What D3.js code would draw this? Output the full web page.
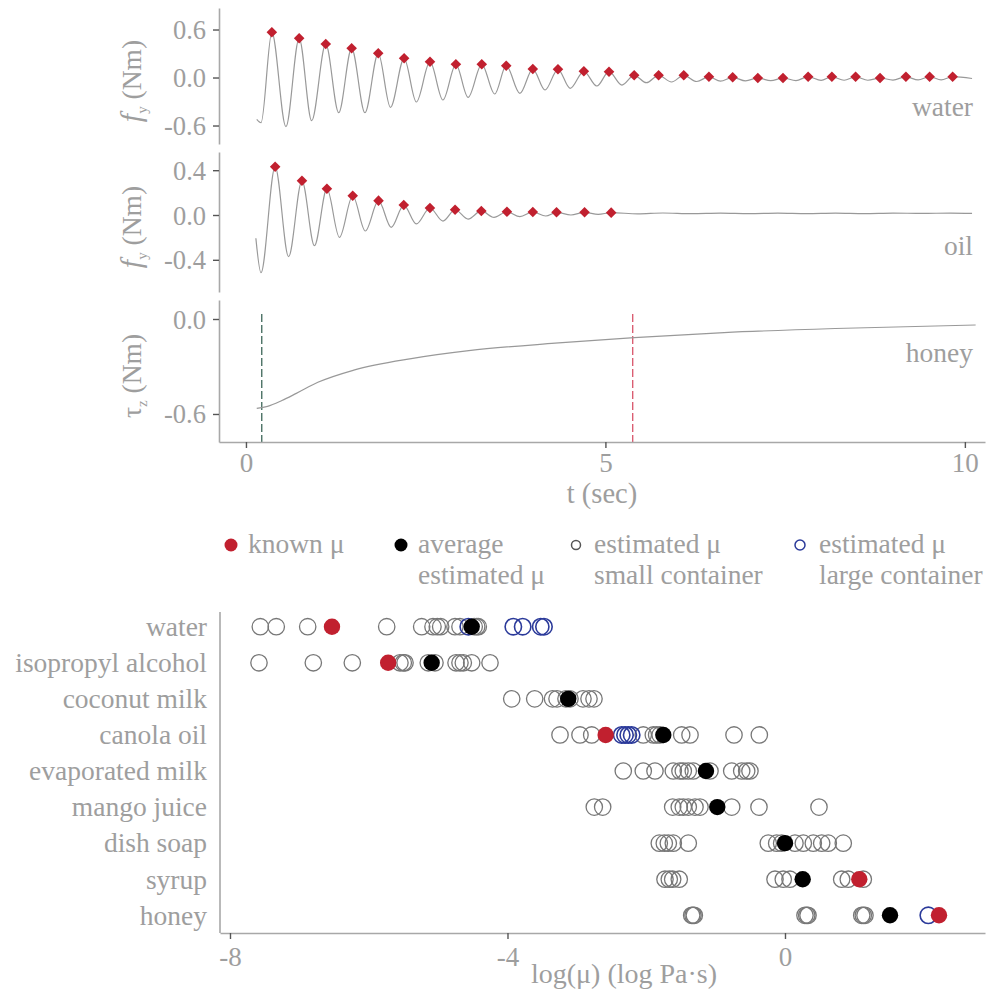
<!DOCTYPE html>
<html><head><meta charset="utf-8">
<script src="https://cdn.jsdelivr.net/npm/d3@7"></script>
<style>
body{margin:0;background:#fff;}
text{font-family:"Liberation Serif","Times New Roman",serif;fill:#9e9e9e;}
</style></head>
<body><svg id="c" width="987" height="990"></svg>
<script>
// ---------- data: time traces ----------
const waterPeakT = [0.36,0.74,1.11,1.47,1.84,2.20,2.56,2.92,3.28,3.62,3.99,4.34,4.70,5.05,5.40,5.74,6.09,6.44,6.77,7.12,7.47,7.82,8.15,8.48,8.82,9.18,9.51,9.83];
const waterPeakV = [0.565,0.49,0.419,0.365,0.303,0.24,0.198,0.165,0.165,0.148,0.106,0.103,0.078,0.073,0.028,0.028,0.028,0.01,0.003,-0.006,-0.006,0.01,0.01,0.01,-0.006,0.01,0.01,0.01];
const waterTroughT = [0.15,0.21,0.556,0.914,1.29,1.655,2.01,2.37,2.74,3.09,3.46,3.81,4.16,4.51,4.88,5.23,5.57,5.92,6.27,6.6,6.95,7.3,7.65,8.0,8.32,8.65,9.0,9.35,9.67,10.1];
const waterTroughV = [-0.523,-0.565,-0.615,-0.54,-0.44,-0.44,-0.373,-0.306,-0.281,-0.248,-0.206,-0.198,-0.156,-0.135,-0.106,-0.094,-0.065,-0.056,-0.05,-0.045,-0.042,-0.04,-0.038,-0.036,-0.034,-0.034,-0.032,-0.03,-0.03,-0.012];

const oilPeakT = [0.406,0.779,1.126,1.485,1.844,2.195,2.559,2.909,3.274,3.63,3.99,4.32,4.71,5.08];
const oilPeakV = [0.431,0.306,0.235,0.172,0.128,0.089,0.0625,0.047,0.036,0.029,0.027,0.024,0.024,0.021];
const oilTroughT = [0.138,0.209,0.593,0.953,1.30,1.66,2.02,2.37,2.74,3.09,3.45,3.81,4.17,4.52,4.9];
const oilTroughV = [-0.208,-0.515,-0.372,-0.274,-0.199,-0.143,-0.11,-0.08,-0.054,-0.036,-0.021,-0.015,-0.009,0.0,0.006];
const oilTailT = [5.45,5.8,6.2,6.6,7.0,7.4,7.8,8.2,8.6,9.0,9.4,9.8,10.1];
const oilTailV = [0.01,0.018,0.012,0.017,0.013,0.017,0.013,0.017,0.013,0.017,0.014,0.017,0.015];

const honeyT = [0.15,0.3,0.5,0.7,1.0,1.5,2.3,3.1,4.3,5.4,6.65,8.2,10.15];
const honeyV = [-0.565,-0.552,-0.515,-0.47,-0.40,-0.323,-0.25,-0.2,-0.153,-0.118,-0.086,-0.06,-0.038];
const honeyStartT = 0.22, honeyEndT = 5.38;

const waterTicks = [-0.6, 0, 0.6];
const oilTicks = [-0.4, 0, 0.4];
const honeyTicks = [-0.6, 0];
const timeTicks = [0, 5, 10];

// ---------- data: viscosity estimates ----------
const categories = ["water","isopropyl alcohol","coconut milk","canola oil","evaporated milk","mango juice","dish soap","syrup","honey"];
const knownMu = [-6.53, -5.72, null, -2.585, null, null, null, 1.071, 2.22];
const avgMu = [-4.516, -5.093, -3.124, -1.754, -1.139, -0.976, 0.0, 0.255, 1.514];
const smallEst = [
  [-7.563,-7.333,-6.880,-5.741,-5.237,-5.074,-5.012,-4.963,-4.757,-4.685,-4.48,-4.444,-4.421],
  [-7.582,-6.799,-6.237,-5.550,-5.502,-5.477,-5.142,-5.045,-4.742,-4.685,-4.637,-4.516,-4.252],
  [-3.939,-3.608,-3.351,-3.286,-3.157,-3.099,-2.912,-2.825,-2.753],
  [-3.243,-2.955,-2.786,-2.043,-1.898,-1.850,-1.80,-1.489,-1.369,-0.735,-0.370],
  [-2.331,-2.043,-1.874,-1.610,-1.514,-1.466,-1.394,-1.322,-1.081,-0.768,-0.624,-0.552,-0.505],
  [-2.749,-2.628,-1.619,-1.524,-1.466,-1.394,-1.297,-1.225,-0.768,-0.375,0.490],
  [-1.812,-1.740,-1.682,-1.610,-1.394,-0.241,-0.120,-0.048,0.144,0.264,0.408,0.529,0.624,0.840],
  [-1.730,-1.668,-1.619,-1.524,-0.144,-0.025,0.072,0.817,0.912,1.129],
  [-1.345,-1.326,-1.307,0.288,0.313,0.332,1.106,1.129,1.153]
];
const largeEst = [
  [-4.565,-3.916,-3.781,-3.521,-3.474],
  [], [],
  [-2.354,-2.306,-2.259,-2.210],
  [], [], [], [],
  [2.066]
];
const muTicks = [-8, -4, 0];

// ---------- drawing ----------
const RED = "#c1202f", BLUE = "#2b3a9a", GREY = "#9e9e9e", CIRC = "#777777", AXIS = "#a8a8a8", TICK = "#555";
const svg = d3.select("#c");
const fmt = v => v.toFixed(1);

const xT = d3.scaleLinear().domain([-0.375, 10.28]).range([219, 985]);
const line = d3.line().x(d => xT(d[0])).curve(d3.curveMonotoneX);

function merge(aT, aV, bT, bV) {
  const pts = aT.map((t, i) => [t, aV[i]]).concat(bT.map((t, i) => [t, bV[i]]));
  return pts.sort((a, b) => a[0] - b[0]);
}

const panels = [
  {y0: 8, y1: 144, dom: [-0.831, 0.869], ticks: waterTicks, label: "water", labelY: 116, sym: "f", sub: "y",
   pts: merge(waterPeakT, waterPeakV, waterTroughT, waterTroughV), peaksT: waterPeakT, peaksV: waterPeakV},
  {y0: 152, y1: 292, dom: [-0.6875, 0.5625], ticks: oilTicks, label: "oil", labelY: 255, sym: "f", sub: "y",
   pts: merge(oilPeakT.concat(oilTailT), oilPeakV.concat(oilTailV), oilTroughT, oilTroughV), peaksT: oilPeakT, peaksV: oilPeakV},
  {y0: 300, y1: 442, dom: [-0.777, 0.12], ticks: honeyTicks, label: "honey", labelY: 362, sym: "τ", sub: "z",
   pts: honeyT.map((t, i) => [t, honeyV[i]]), peaksT: [], peaksV: []}
];

panels.forEach((p, pi) => {
  const y = d3.scaleLinear().domain(p.dom).range([p.y1, p.y0]);
  const g = svg.append("g");
  const ax = g.append("g").attr("transform", "translate(219,0)")
    .call(d3.axisLeft(y).tickValues(p.ticks).tickFormat(fmt).tickSize(6).tickSizeOuter(0).tickPadding(7));
  ax.select(".domain").attr("stroke", AXIS).attr("stroke-width", 1.6);
  ax.selectAll(".tick line").attr("stroke", TICK).attr("stroke-width", 1.4);
  ax.selectAll(".tick text").attr("font-size", 26.5).attr("fill", GREY)
    .style("font-family", '"Liberation Serif",serif').attr("dy", "0.34em");
  const cy = (p.y0 + p.y1) / 2 + 5;
  const tt = g.append("text").attr("transform", `translate(141,${cy}) rotate(-90)`)
    .attr("text-anchor", "middle").attr("font-size", 27.5);
  tt.append("tspan").text(p.sym).attr("font-style", p.sym === "f" ? "italic" : "normal").attr("font-size", p.sym === "f" ? 30 : 27.5);
  tt.append("tspan").text(p.sub).attr("font-size", 15).attr("dy", 6);
  tt.append("tspan").text(" (Nm)").attr("dy", -6);
  if (pi === 2) {
    g.append("line").attr("x1", xT(honeyStartT)).attr("x2", xT(honeyStartT)).attr("y1", 314).attr("y2", p.y1)
      .attr("stroke", "#2e5b4c").attr("stroke-width", 1.2).attr("stroke-dasharray", "8,3");
    g.append("line").attr("x1", xT(honeyEndT)).attr("x2", xT(honeyEndT)).attr("y1", 314).attr("y2", p.y1)
      .attr("stroke", "#d5475d").attr("stroke-width", 1.2).attr("stroke-dasharray", "8,3");
  }
  g.append("path").datum(p.pts).attr("d", line.y(d => y(d[1])))
    .attr("fill", "none").attr("stroke", "#999").attr("stroke-width", 1.2);
  g.selectAll("path.pk").data(p.peaksT.map((t, i) => [t, p.peaksV[i]])).enter().append("path")
    .attr("class", "pk").attr("d", d3.symbol(d3.symbolSquare, 56)())
    .attr("transform", d => `translate(${xT(d[0])},${y(d[1])}) rotate(45)`).attr("fill", RED);
  g.append("text").attr("x", 973).attr("y", p.labelY).attr("text-anchor", "end").attr("font-size", 27.5).text(p.label);
});

// time axis
const xa = svg.append("g").attr("transform", "translate(0,442)")
  .call(d3.axisBottom(xT).tickValues(timeTicks).tickSize(6).tickSizeOuter(0).tickPadding(5).tickFormat(d3.format("d")));
xa.select(".domain").attr("stroke", AXIS).attr("stroke-width", 1.6);
xa.selectAll(".tick line").attr("stroke", TICK).attr("stroke-width", 1.4);
xa.selectAll(".tick text").attr("font-size", 27).attr("fill", GREY).style("font-family", '"Liberation Serif",serif');
svg.append("text").attr("x", 602).attr("y", 503).attr("text-anchor", "middle").attr("font-size", 28.5).text("t (sec)");

// ---------- legend ----------
const leg = [
  {x: 231, fill: RED, stroke: "none", r: 6.5, lines: ["known μ"], tx: 248},
  {x: 401, fill: "#000", stroke: "none", r: 6.5, lines: ["average", "estimated μ"], tx: 418},
  {x: 576, fill: "none", stroke: "#555", r: 4.5, lines: ["estimated μ", "small container"], tx: 594},
  {x: 800, fill: "none", stroke: BLUE, r: 5, lines: ["estimated μ", "large container"], tx: 819}
];
leg.forEach(l => {
  svg.append("circle").attr("cx", l.x).attr("cy", 545).attr("r", l.r).attr("fill", l.fill)
    .attr("stroke", l.stroke).attr("stroke-width", 1.5);
  l.lines.forEach((s, i) => svg.append("text").attr("x", l.tx).attr("y", 553 + i * 31).attr("font-size", 27.5).text(s));
});

// ---------- viscosity dot plot ----------
const xB = d3.scaleLinear().domain([-8.144, 2.883]).range([220, 985]);
const yB = d3.scalePoint().domain(categories).range([626.7, 915.3]);
const bx = svg.append("g").attr("transform", "translate(0,933)")
  .call(d3.axisBottom(xB).tickValues(muTicks).tickSize(6).tickSizeOuter(0).tickPadding(8).tickFormat(d => d < 0 ? "-" + Math.abs(d) : d));
bx.select(".domain").attr("stroke", AXIS).attr("stroke-width", 1.6);
bx.selectAll(".tick line").attr("stroke", TICK).attr("stroke-width", 1.4);
bx.selectAll(".tick text").attr("font-size", 27).attr("fill", GREY).style("font-family", '"Liberation Serif",serif');
svg.append("line").attr("x1", 220).attr("x2", 220).attr("y1", 612).attr("y2", 933).attr("stroke", AXIS).attr("stroke-width", 1.6);
const by = svg.append("g").attr("transform", "translate(220,0)")
  .call(d3.axisLeft(yB).tickSize(0).tickPadding(13));
by.select(".domain").remove();
by.selectAll(".tick text").attr("font-size", 27.5).attr("fill", GREY).style("font-family", '"Liberation Serif",serif');
svg.append("text").attr("x", 624).attr("y", 983).attr("text-anchor", "middle").attr("font-size", 28).text("log(μ) (log Pa·s)");

const R = 8.2;
const smallPts = [], largePts = [], avgPts = [], knownPts = [];
categories.forEach((c, i) => {
  smallEst[i].forEach(v => smallPts.push([c, v]));
  largeEst[i].forEach(v => largePts.push([c, v]));
  avgPts.push([c, avgMu[i]]);
  if (knownMu[i] !== null) knownPts.push([c, knownMu[i]]);
});
const dots = svg.append("g");
dots.selectAll("circle.s").data(smallPts).enter().append("circle").attr("class", "s")
  .attr("cx", d => xB(d[1])).attr("cy", d => yB(d[0])).attr("r", R)
  .attr("fill", "none").attr("stroke", CIRC).attr("stroke-width", 1.3);
dots.selectAll("circle.l").data(largePts).enter().append("circle").attr("class", "l")
  .attr("cx", d => xB(d[1])).attr("cy", d => yB(d[0])).attr("r", R)
  .attr("fill", "none").attr("stroke", BLUE).attr("stroke-width", 1.6);
dots.selectAll("circle.k").data(knownPts).enter().append("circle").attr("class", "k")
  .attr("cx", d => xB(d[1])).attr("cy", d => yB(d[0])).attr("r", R).attr("fill", RED);
dots.selectAll("circle.a").data(avgPts).enter().append("circle").attr("class", "a")
  .attr("cx", d => xB(d[1])).attr("cy", d => yB(d[0])).attr("r", R).attr("fill", "#000");
</script></body></html>
